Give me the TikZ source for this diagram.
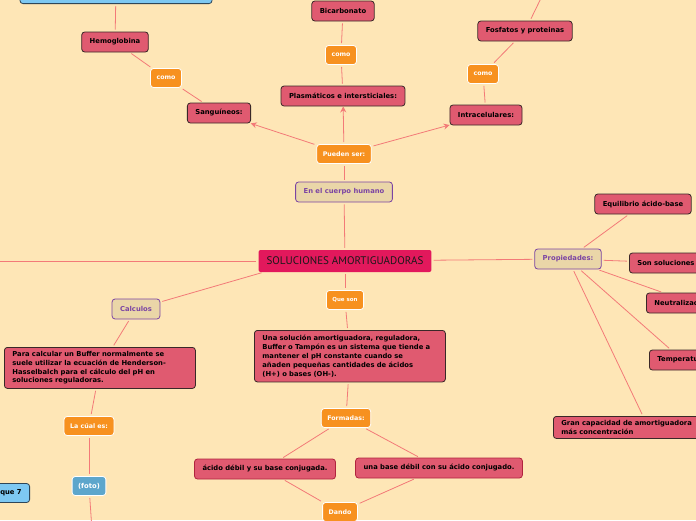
\documentclass[tikz,border=0pt]{standalone}
\usepackage{fontspec}
\setmainfont{DejaVu Sans}
\newfontfamily\titlefont{PT Sans}
\usetikzlibrary{arrows.meta}
\definecolor{bg}{HTML}{FEE6B6}
\definecolor{redbox}{HTML}{E05A70}
\definecolor{redborder}{HTML}{3A2828}
\definecolor{redborder2}{HTML}{B0243E}
\definecolor{orangebox}{HTML}{F7911F}
\definecolor{tanbox}{HTML}{EAD6A8}
\definecolor{purp}{HTML}{7B45A3}
\definecolor{bluebox}{HTML}{7DC8F2}
\definecolor{blueborder}{HTML}{2E4658}
\definecolor{fotobox}{HTML}{5DA6CC}
\definecolor{linkc}{HTML}{F37A78}
\definecolor{crimson}{HTML}{E2185C}
\tikzset{
  basebox/.style={rounded corners=3pt, inner ysep=0pt, line width=0.8pt,
    font=\bfseries\fontsize{6.8}{9}\selectfont},
  redn/.style={basebox, fill=redbox, draw=redborder, text=black, minimum height=20pt, inner xsep=8pt},
  redm/.style={redn, align=left, inner ysep=4pt, font=\bfseries\fontsize{6.8}{8.8}\selectfont},
  redb/.style={redn, draw=redborder2},
  orn/.style={basebox, fill=orangebox, draw=white, text=white, minimum height=19pt, inner xsep=6pt,
    font=\bfseries\fontsize{6.3}{8}\selectfont},
  tann/.style={basebox, fill=tanbox, draw=purp, text=purp, minimum height=20pt, inner xsep=8pt},
  bluen/.style={basebox, fill=bluebox, draw=blueborder, text=black, minimum height=19pt, inner xsep=6pt},
  foton/.style={basebox, fill=fotobox, draw=white, text=white, minimum height=19pt, inner xsep=6pt},
  titlen/.style={rounded corners=2pt, fill=crimson, text=black!90, minimum height=22pt, inner xsep=8pt,
    font=\titlefont\fontsize{11}{13}\selectfont},
  lnk/.style={draw=linkc, line width=0.8pt, shorten <=2pt, shorten >=2pt},
  arr/.style={draw=linkc, line width=0.8pt, shorten <=2pt, -{Stealth[length=6pt,width=6pt]}},
}
\begin{document}
\begin{tikzpicture}[x=1pt,y=-1pt]
\useasboundingbox (0,0) rectangle (696,520);
\fill[bg] (0,0) rectangle (696,520);

% nodes
\node[bluen, minimum width=192pt, minimum height=30pt, anchor=south] (blue) at (116,4) {};
\node[redn] (hemo) at (115,42) {Hemoglobina};
\node[orn] (como1) at (166,78) {como};
\node[redn] (sang) at (219,113) {Sanguíneos:};
\node[redn] (bicarb) at (343,11) {Bicarbonato};
\node[orn] (como2) at (341,55) {como};
\node[redn] (plasma) at (343,96) {Plasmáticos e intersticiales:};
\node[redn] (fosf) at (525,31) {Fosfatos y proteinas};
\coordinate (fosup) at (545,-10);
\node[orn] (como3) at (483,74) {como};
\node[redn] (intra) at (486,115) {Intracelulares:};
\node[orn] (pueden) at (344,154) {Pueden ser:};
\node[tann] (cuerpo) at (344,192) {En el cuerpo humano};
\node[titlen] (sol) at (345,261) {SOLUCIONES AMORTIGUADORAS};
\coordinate (leftend) at (-5,261);
\node[tann] (prop) at (568,259) {Propiedades:};
\node[redn] (equil) at (643,204) {Equilibrio ácido-base};
\node[redn, anchor=west, text width=80pt, align=left] (son) at (629,263) {Son soluciones};
\node[redn, anchor=west, text width=76pt, align=left] (neut) at (646,303) {Neutralización};
\node[redn, anchor=west, text width=50pt, align=left] (temp) at (649,360) {Temperatura};
\node[redm, anchor=north west, text width=174pt] (gran) at (553,416) {Gran capacidad de amortiguadora\\más concentración};
\node[tann] (calc) at (136,309) {Calculos};
\node[redm, anchor=north west, text width=175pt] (para) at (4,347)
  {Para calcular un Buffer normalmente se\\suele utilizar la ecuación de Henderson-\\Hasselbalch para el cálculo del pH en\\soluciones reguladoras.};
\node[orn] (lacual) at (89,426) {La cúal es:};
\node[foton] (foto) at (89,486) {(foto)};
\coordinate (fotoend) at (92,530);
\node[bluen, anchor=east, text width=40pt, align=right, inner xsep=8pt] (que7) at (30,493) {que 7};
\node[orn, font=\bfseries\fontsize{5.5}{7}\selectfont, minimum height=19pt] (queson) at (345,300) {Que son};
\node[redm, anchor=north west, text width=175pt, inner ysep=5pt] (una) at (254,330)
  {Una solución amortiguadora, reguladora,\\Buffer o Tampón es un sistema que tiende a\\mantener el pH constante cuando se\\añaden pequeñas cantidades de ácidos\\(H+) o bases (OH-).};
\node[orn] (form) at (346,418) {Formadas:};
\node[redb] (acido) at (265,469) {ácido débil y su base conjugada.};
\node[redb] (base) at (439,468) {una base débil con su ácido conjugado.};
\node[orn] (dando) at (340,512) {Dando};

% connectors
\draw[lnk] (blue) -- (hemo);
\draw[lnk] (hemo) -- (como1);
\draw[lnk] (como1) -- (sang);
\draw[lnk] (bicarb) -- (como2);
\draw[lnk] (como2) -- (plasma);
\draw[lnk] (fosf) -- (fosup);
\draw[lnk] (fosf) -- (como3);
\draw[lnk] (como3) -- (intra);
\draw[arr] (pueden) -- (sang);
\draw[arr] (pueden) -- (plasma);
\draw[arr] (pueden) -- (intra);
\draw[lnk] (pueden) -- (cuerpo);
\draw[lnk] (cuerpo) -- (sol);
\draw[lnk] (sol) -- (leftend);
\draw[lnk] (sol) -- (prop);
\draw[lnk] (prop) -- (equil);
\draw[lnk] (prop) -- (son);
\draw[lnk] (prop) -- (neut);
\draw[lnk] (prop) -- (temp);
\draw[lnk] (prop) -- (gran);
\draw[lnk] (calc) -- ([xshift=5pt]sol.south west);
\draw[lnk] (calc) -- (para);
\draw[lnk] (para) -- (lacual);
\draw[lnk] (lacual) -- (foto);
\draw[lnk] (foto) -- (fotoend);
\draw[lnk] (sol) -- (queson);
\draw[lnk] (queson) -- (una);
\draw[lnk] (una) -- (form);
\draw[lnk] (form) -- (acido);
\draw[lnk] (form) -- (base);
\draw[lnk] (acido) -- (dando);
\draw[lnk] (base) -- (dando);
\end{tikzpicture}
\end{document}
